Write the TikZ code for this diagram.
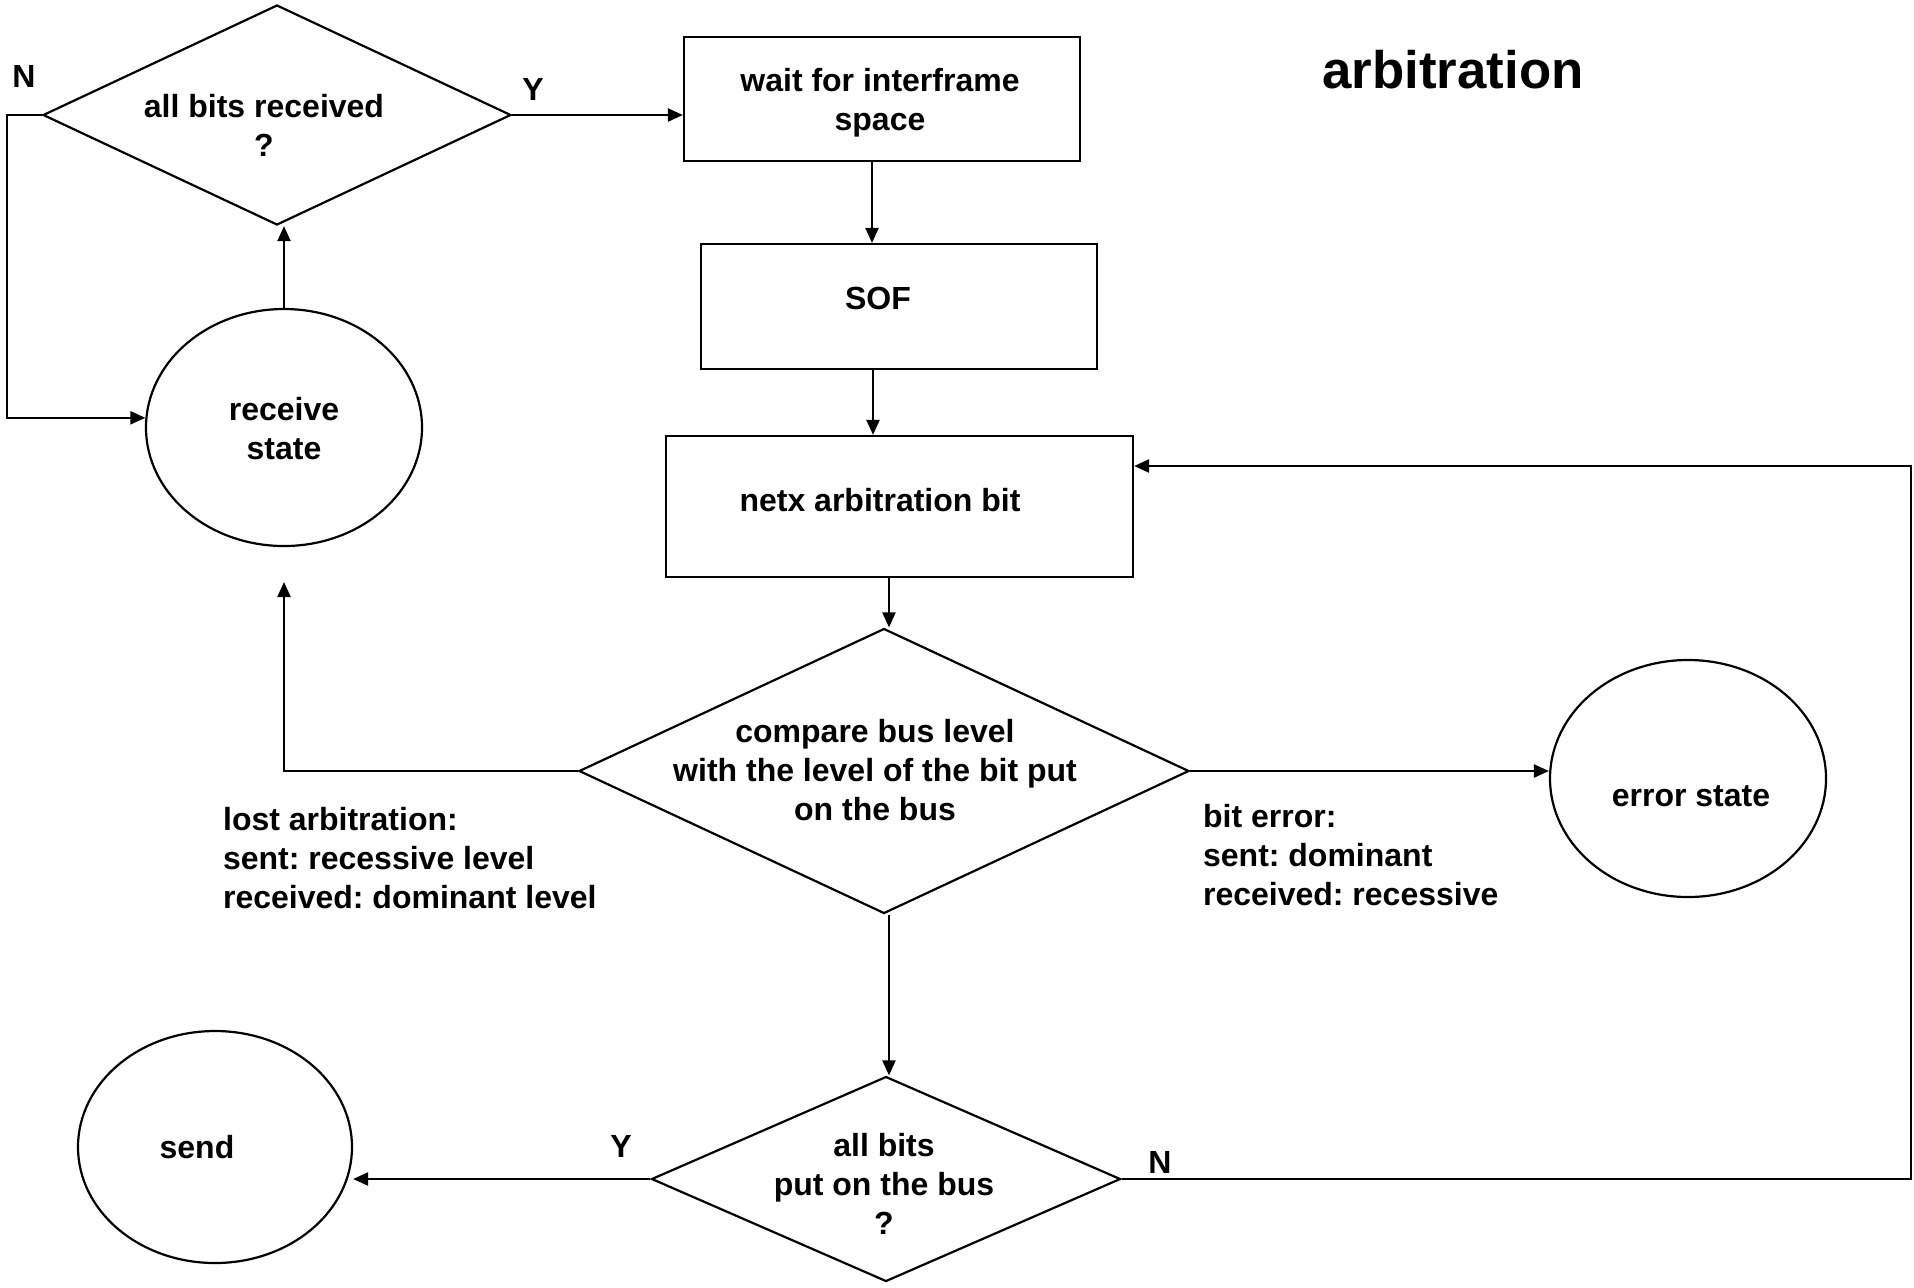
\documentclass[tikz,border=0pt]{standalone}
\usepackage{fontspec}
\setmainfont{Liberation Sans}
\usetikzlibrary{shapes.geometric,arrows.meta}
\frenchspacing
\begin{document}
\begin{tikzpicture}[x=0.5pt,y=-0.5pt,
  line width=1.1pt,
  every node/.style={font=\bfseries\fontsize{16pt}{19.5pt}\selectfont},
  box/.style={draw, rectangle, inner sep=0pt},
  dia/.style={draw, diamond, inner sep=0pt},
  ell/.style={draw, ellipse, inner sep=0pt},
  txt/.style={align=center, inner sep=0pt},
  lbl/.style={align=left, inner sep=0pt, anchor=west},
  arr/.style={-{Triangle[length=7.5pt,width=6.5pt]}},
]
\useasboundingbox (0,0) rectangle (1914,1287);

% shapes
\node[dia, minimum width=234pt, minimum height=110pt] (D1) at (277,115) {};
\node[box, minimum width=198pt, minimum height=62pt] (W1) at (882,99) {};
\node[box, minimum width=198pt, minimum height=62.5pt] (SOF) at (899,306.5) {};
\node[box, minimum width=233.5pt, minimum height=70.5pt] (NB) at (899.5,506.5) {};
\node[dia, minimum width=305pt, minimum height=142.5pt] (D2) at (884,771) {};
\node[dia, minimum width=234.5pt, minimum height=102.5pt] (D3) at (886,1179) {};
\node[ell, minimum width=138pt, minimum height=118.5pt] (E1) at (284,427.5) {};
\node[ell, minimum width=138pt, minimum height=118.5pt] (E2) at (1688,778.5) {};
\node[ell, minimum width=137pt, minimum height=116pt] (E3) at (215,1147) {};

% texts
\node[txt] (t1) at (264,125) {all bits received\\?};
\node[txt] (t2) at (880,103) {wait for interframe\\space};
\node[txt] (t3) at (878,298) {SOF};
\node[txt] (t4) at (880,500) {netx arbitration bit};
\node[txt] (t5) at (875,770) {compare bus level\\with the level of the bit put\\on the bus};
\node[txt] (t6) at (284,429) {receive\\state};
\node[txt] (t7) at (1691,796) {error state};
\node[txt] (t8) at (197,1147) {send};
\node[txt] (t9) at (884,1184) {all bits\\put on the bus\\?};
\node[lbl] (lost) at (222,858) {lost arbitration:\\sent: recessive level\\received: dominant level};
\node[lbl] (berr) at (1202,855) {bit error:\\sent: dominant\\received: recessive};
\node[txt] (N1) at (24,76) {N};
\node[txt] (Y1) at (533,89) {Y};
\node[txt] (Y2) at (621,1146) {Y};
\node[txt] (N2) at (1160,1162) {N};
\node[txt, font=\bfseries\fontsize{26.4pt}{30pt}\selectfont] (title) at (1453,70) {arbitration};

% helper coordinates
\coordinate (xa) at (872,0);
\coordinate (xb) at (873,0);
\coordinate (xc) at (889,0);
\coordinate (nl) at (7,0);
\coordinate (lostend) at (284,582);
\coordinate (c1) at (1911,466);

% connectors
\draw[arr] (D1.east) -- (D1.east -| W1.west);
\draw[arr] (W1.south -| xa) -- (SOF.north -| xa);
\draw[arr] (SOF.south -| xb) -- (NB.north -| xb);
\draw[arr] (NB.south -| xc) -- (D2.north -| xc);
\draw[arr] (D2.south -| xc) -- (D3.north -| xc);
\draw[arr] (E1.north) -- (E1.north |- D1.south);
\draw[arr] (D1.west) -- (D1.west -| nl) |- (E1.176);
\draw[arr] (D2.west) -| (lostend);
\draw[arr] (D2.east) -- (D2.east -| E2.west);
\draw[arr] (D3.west) -- (D3.west -| E3.east);
\draw[arr] (D3.east) -| (c1) -- (c1 -| NB.east);
\end{tikzpicture}
\end{document}
